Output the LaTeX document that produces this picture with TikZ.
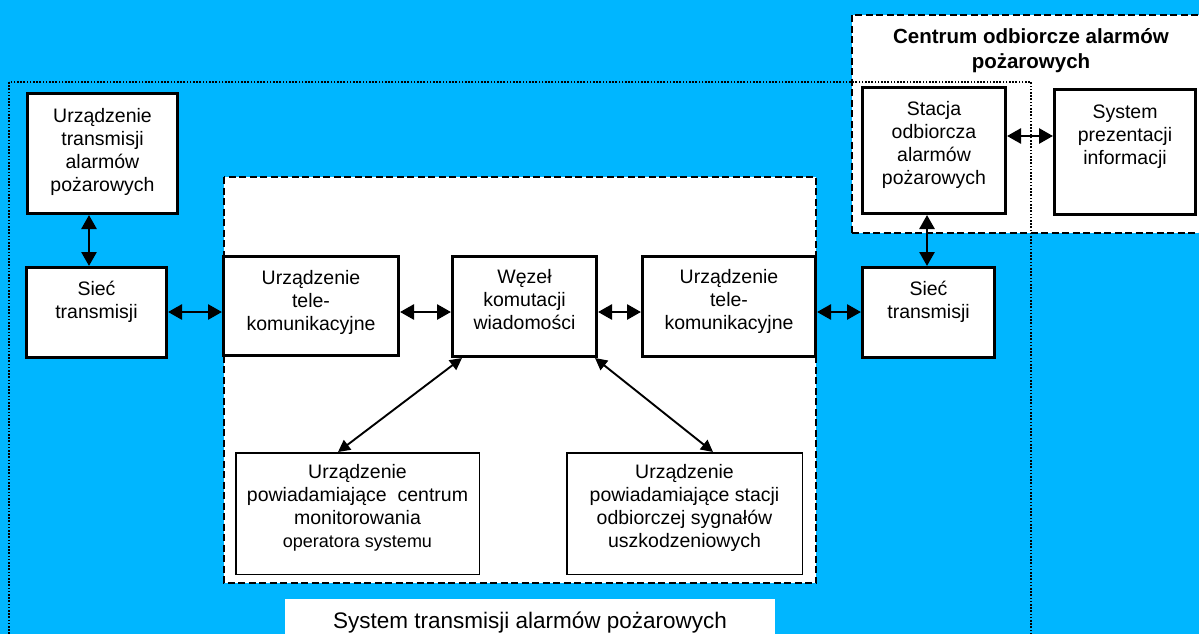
\documentclass[tikz,border=0pt]{standalone}
\usepackage{fontspec}
\setmainfont{Liberation Sans}
\usetikzlibrary{arrows.meta}
\definecolor{bgblue}{RGB}{0,182,255}
\newcommand{\bt}[4]{\parbox[c][#2pt][t]{#1pt}{\centering\rule{0pt}{#3pt}#4\par}}
\tikzset{
  bx/.style={draw=black, line width=3pt, fill=white, inner sep=0pt},
  thinbx/.style={draw=black, line width=1.5pt, fill=white, inner sep=0pt},
  harrow/.style={line width=2.7pt, arrows={Triangle[length=14pt,width=15pt]-Triangle[length=14pt,width=15pt]}},
  darrow/.style={line width=1.9pt, arrows={Triangle[length=12pt,width=12pt]-Triangle[length=12pt,width=12pt]}},
  regdash/.style={draw=black, line width=2pt, dash pattern=on 7pt off 3.5pt, fill=white},
  regdot/.style={draw=black, line width=1.6pt, dash pattern=on 1.6pt off 1.6pt}
}
\begin{document}
\begin{tikzpicture}[x=1pt,y=-1pt,font=\fontsize{19.5}{23}\selectfont]
\useasboundingbox (0,0) rectangle (1199,634);
\clip (0,0) rectangle (1199,634);
\fill[bgblue] (0,0) rectangle (1199,634);

% inner dashed region
\draw[regdash] (224,177) rectangle (816,583);
% centrum box
\node[regdash, inner sep=0pt, font=\fontsize{20.5}{25}\selectfont\bfseries] (CO) at (1031,124)
  {\bt{358}{218}{28}{Centrum odbiorcze alarmów\\pożarowych}};
% outer dotted region
\draw[regdot] (9,82) rectangle (1031,700);
% label
\node[fill=white, inner sep=0pt, font=\fontsize{22.5}{27}\selectfont] (LB) at (530,624.5)
  {\bt{490}{51}{29}{System transmisji alarmów pożarowych}};

% boxes
\node[bx] (UT) at (102.5,153.5) {\bt{150}{120}{28.5}{Urządzenie\\transmisji\\alarmów\\pożarowych}};
\node[bx] (SL) at (96.5,312.5) {\bt{140}{90}{27.5}{Sieć\\transmisji}};
\node[bx] (TL) at (311,306) {\bt{175}{99}{27.5}{Urządzenie\\tele-\\komunikacyjne}};
\node[bx] (WK) at (524.5,306.5) {\bt{144}{100}{26.5}{Węzeł\\komutacji\\wiadomości}};
\node[bx] (TR) at (729,306.5) {\bt{173}{100}{27}{Urządzenie\\tele-\\komunikacyjne}};
\node[bx] (SR) at (928.5,312.5) {\bt{132}{90}{27.5}{Sieć\\transmisji}};
\node[bx] (ST) at (934,150.5) {\bt{143}{126}{27.5}{Stacja\\odbiorcza\\alarmów\\pożarowych}};
\node[bx] (SP) at (1125,152) {\bt{141}{125}{28.5}{System\\prezentacji\\informacji}};
\node[thinbx] (BL) at (357.5,513.5) {\bt{243.5}{121.5}{26}{Urządzenie\\powiadamiające~ centrum\\monitorowania\\{\fontsize{18}{23}\selectfont operatora systemu}}};
\node[thinbx] (BR) at (684.5,513.5) {\bt{235.5}{121.5}{26}{Urządzenie\\powiadamiające stacji\\odbiorczej sygnałów\\uszkodzeniowych}};

% guide coordinates
\coordinate (ax) at (89,0);
\coordinate (ay) at (0,312);
\coordinate (bx) at (927,0);
\coordinate (by) at (0,136);
\coordinate (cx) at (338,0);
\coordinate (dx) at (713,0);

% connectors
\draw[harrow] (UT.south -| ax) -- (SL.north -| ax);
\draw[harrow] (SL.east |- ay) -- (TL.west |- ay);
\draw[harrow] (TL.east |- ay) -- (WK.west |- ay);
\draw[harrow] (WK.east |- ay) -- (TR.west |- ay);
\draw[harrow] (TR.east |- ay) -- (SR.west |- ay);
\draw[harrow] (ST.south -| bx) -- (SR.north -| bx);
\draw[harrow] (ST.east |- by) -- (SP.west |- by);
\draw[darrow] ([xshift=11pt]WK.south west) -- (BL.north -| cx);
\draw[darrow] ([xshift=-3pt]WK.south east) -- (BR.north -| dx);
\end{tikzpicture}
\end{document}
